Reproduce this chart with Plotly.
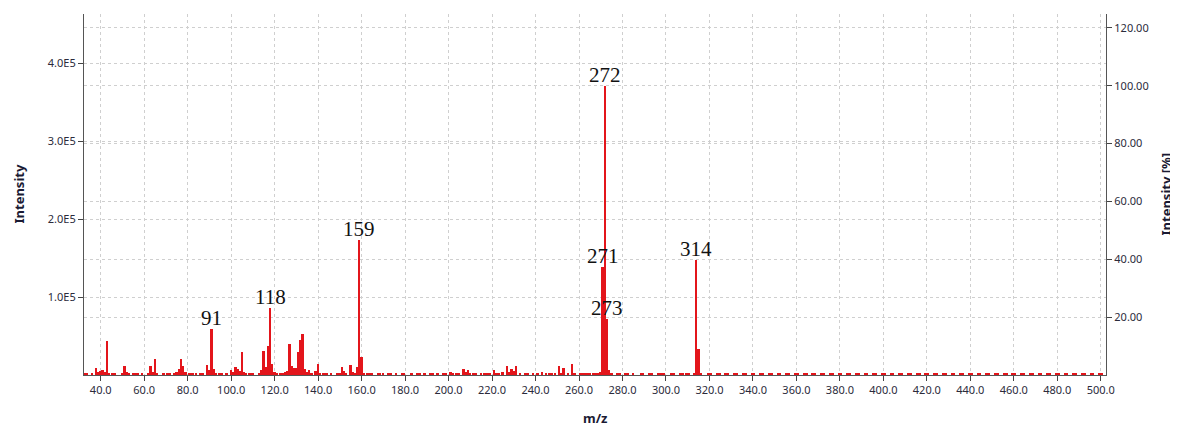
import plotly.graph_objects as go

# ---- data (m/z, intensity in counts) ----
mz = [36, 38, 39, 40, 41, 42, 43, 44, 50, 51, 52, 53, 55, 57, 59, 62, 63, 64, 65, 66,
      69, 74, 75, 76, 77, 78, 79, 81, 84, 86, 87, 89, 90, 91, 92, 93, 96, 98, 100, 101,
      102, 103, 104, 105, 106, 107, 110, 113, 114, 115, 116, 117, 118, 119, 120, 121,
      125, 126, 127, 128, 129, 130, 131, 132, 133, 134, 135, 136, 137, 139, 140, 141,
      144, 146, 149, 150, 151, 152, 153, 155, 156, 157, 158, 159, 160, 161, 165, 170,
      176, 183, 189, 195, 201, 202, 207, 208, 209, 210, 215, 219, 221, 222, 223, 225,
      227, 228, 229, 230, 231, 233, 239, 241, 243, 245, 249, 251, 252, 253, 255, 257,
      258, 265, 269, 270, 271, 272, 273, 274, 275, 285, 299, 313, 314, 315, 316]
intensity = [3000, 9000, 4000, 5000, 6000, 4000, 44000, 3000, 3000, 11000, 4000, 3000, 3000, 2000, 2000, 3000, 11000, 4000, 20000, 3000,
             2000, 3000, 4000, 8000, 20000, 12000, 4000, 2000, 2000, 3000, 3000, 13000, 7000, 59000, 8000, 2000, 2000, 3000, 6000, 4000,
             10000, 8000, 5000, 29000, 4000, 3000, 2000, 3000, 6000, 31000, 10000, 37000, 86000, 14000, 4000, 3000,
             4000, 5000, 40000, 11000, 9000, 9000, 29000, 45000, 52000, 8000, 4000, 7000, 3000, 5000, 14000, 3000,
             2000, 3000, 3000, 3000, 10000, 5000, 3000, 13000, 4000, 3000, 10000, 173000, 23000, 3000, 2000, 2000,
             2000, 3000, 2000, 3000, 4000, 2000, 8000, 4000, 6000, 3000, 2000, 3000, 6000, 3000, 3000, 4000,
             11000, 4000, 8000, 5000, 11000, 2000, 3000, 2000, 4000, 2000, 2000, 11000, 3000, 9000, 3000, 14000,
             3000, 2000, 2000, 4000, 138500, 371000, 72000, 6000, 2000, 1500, 1500, 3000, 147000, 33000, 3000]

# baseline noise (small signals along the baseline)
noise_mz = [33, 46, 56, 71, 82, 95, 109, 123, 143, 163, 168, 173, 179, 186, 192, 198, 204, 212, 217,
            236, 247, 261, 263, 267, 278, 282, 289, 293, 297, 303, 307, 310, 320, 324, 328, 332, 336,
            340, 344, 348, 352, 356, 360, 364, 368, 372, 376, 380, 384, 388, 392, 396, 400, 404, 408,
            412, 416, 420, 424, 428, 432, 436, 440, 444, 448, 452, 456, 460, 464, 468, 472, 476, 480,
            484, 488, 492, 496, 500]
noise_int = [1500] * len(noise_mz)

labels_mz = [91, 118, 159, 271, 272, 273, 314]
labels_txt = ["91", "118", "159", "271", "272", "273", "314"]

x_ticks = [40, 60, 80, 100, 120, 140, 160, 180, 200, 220, 240, 260, 280, 300, 320, 340,
           360, 380, 400, 420, 440, 460, 480, 500]
y_ticks = [100000, 200000, 300000, 400000]
y_tick_text = ["1.0E5", "2.0E5", "3.0E5", "4.0E5"]
pct_ticks = [20, 40, 60, 80, 100, 120]

# ---- figure ----
RED = "#E3151B"
base_peak = max(intensity)
pct = [v / base_peak * 100 for v in intensity]

fig = go.Figure()
fig.add_trace(go.Bar(x=noise_mz, y=noise_int, width=2.2, marker_color=RED,
                     marker_line_width=0, hoverinfo="skip"))
fig.add_trace(go.Bar(x=mz, y=intensity, width=0.9, marker_color=RED,
                     marker_line_width=0))
fig.add_trace(go.Scatter(x=mz, y=pct, yaxis="y2", mode="markers",
                         marker=dict(opacity=0), showlegend=False, hoverinfo="skip"))

lookup = dict(zip(mz, intensity))
for m, t in zip(labels_mz, labels_txt):
    fig.add_annotation(x=m, y=lookup[m], text=t, showarrow=False, yanchor="bottom",
                       yshift=-3,
                       font=dict(family="Liberation Serif", size=21, color="#111111"))

grid = dict(showgrid=True, gridcolor="#cfcfcf", griddash="3px,3px", gridwidth=1)
tickfont = dict(family="Noto Sans", size=11, color="#2b2b3b")
titlefont = dict(family="Noto Sans", size=13, color="#1a1a33", weight="bold")

# page body has an 8px margin, so the figure is sized/offset to compensate
fig.update_layout(
    width=1168, height=419,
    margin=dict(l=76, r=70, t=6, b=52, autoexpand=False),
    paper_bgcolor="white", plot_bgcolor="white",
    showlegend=False, barmode="overlay", bargap=0,
    xaxis=dict(range=[32.3, 502.4], tickvals=x_ticks, tickformat=".1f",
               ticks="outside", ticklen=5, tickcolor="#444", showline=True,
               linecolor="#555", linewidth=1.2, zeroline=False, tickfont=tickfont,
               automargin=False, **grid),
    yaxis=dict(range=[0, 463000], tickvals=y_ticks, ticktext=y_tick_text,
               ticks="outside", ticklen=5, tickcolor="#444", showline=True,
               linecolor="#555", linewidth=1.2, zeroline=False, tickfont=tickfont,
               automargin=False, **grid),
    yaxis2=dict(range=[0, 124.8], overlaying="y", side="right", tickvals=pct_ticks,
                tickformat=".2f", ticks="outside", ticklen=5, tickcolor="#444",
                showline=True, linecolor="#555", linewidth=1.2, zeroline=False,
                tickfont=tickfont, automargin=False, **grid),
)

# axis titles
fig.add_annotation(text="m/z", xref="paper", yref="paper", x=0.5, y=0, yshift=-43,
                   showarrow=False, font=titlefont, yanchor="middle")
fig.add_annotation(text="Intensity", xref="paper", yref="paper", x=0, y=0.5, xshift=-66,
                   showarrow=False, font=titlefont, textangle=-90, xanchor="center")
fig.add_annotation(text="Intensity [%]", xref="paper", yref="paper", x=1, y=0.5, xshift=59,
                   showarrow=False, font=titlefont, textangle=-90, xanchor="center")

fig.write_html("out.html")
